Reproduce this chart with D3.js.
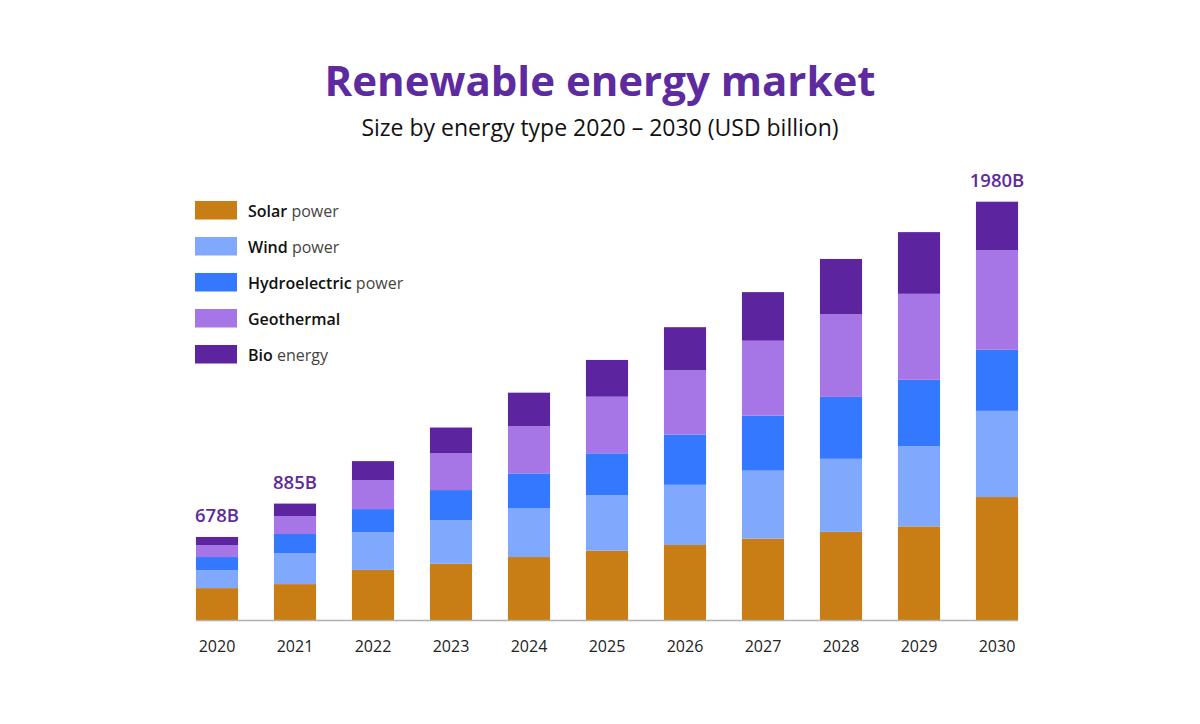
<!DOCTYPE html>
<html>
<head>
<meta charset="utf-8">
<script src="https://cdn.jsdelivr.net/npm/d3@7"></script>
<style>
  html, body { margin: 0; padding: 0; background: #fff; }
  svg { display: block; font-family: 'Open Sans', sans-serif; }
</style>
</head>
<body>
<svg id="canvas" width="1200" height="724"></svg>
<script>
// chart data (USD billion)
let years = ['2020', '2021', '2022', '2023', '2024', '2025', '2026', '2027', '2028', '2029', '2030']
let solar = [151, 170, 237, 266, 298, 328, 355, 385, 417, 443, 582]
let wind = [85, 147, 178, 207, 230, 262, 285, 322, 346, 380, 408]
let hydro = [62, 90, 110, 142, 166, 199, 238, 260, 293, 314, 289]
let geothermal = [57, 84, 137, 174, 224, 268, 304, 355, 391, 407, 472]
let bio = [38, 60, 90, 122, 158, 174, 204, 230, 262, 292, 229]

let seriesKeys = ['solar', 'wind', 'hydro', 'geothermal', 'bio']
let seriesBold = ['Solar', 'Wind', 'Hydroelectric', 'Geothermal', 'Bio']
let seriesRest = [' power', ' power', ' power', '', ' energy']
let seriesColors = ['#c97d15', '#80a9fe', '#3378fe', '#a776e6', '#5d24a0']

// total labels shown above some bars
let totalYears = ['2020', '2021', '2030']
let totalLabels = ['678B', '885B', '1980B']

let width = 1200
let height = 724

let canvas = d3.select('#canvas')

let table = years.map((year, i) => {
    return {
        year: year,
        solar: solar[i],
        wind: wind[i],
        hydro: hydro[i],
        geothermal: geothermal[i],
        bio: bio[i]
    }
})

let stacked = d3.stack().keys(seriesKeys)(table)

let xScale = d3.scaleBand()
               .domain(years)
               .range([178, 1036])
               .paddingInner(0.46)
               .paddingOuter(0.23)

let yScale = d3.scaleLinear()
               .domain([0, 1980])
               .range([620, 201.7])

let colorScale = d3.scaleOrdinal()
                   .domain(seriesKeys)
                   .range(seriesColors)

// title
canvas.append('text')
      .attr('x', width / 2)
      .attr('y', 96)
      .attr('text-anchor', 'middle')
      .style('font-size', '42px')
      .style('font-weight', '700')
      .style('fill', '#5d2aa0')
      .text('Renewable energy market')

canvas.append('text')
      .attr('x', width / 2)
      .attr('y', 136)
      .attr('text-anchor', 'middle')
      .style('font-size', '23px')
      .style('fill', '#111')
      .text('Size by energy type 2020 \u2013 2030 (USD billion)')

// bars
canvas.append('g')
      .selectAll('g')
      .data(stacked)
      .enter()
      .append('g')
      .attr('fill', (d) => colorScale(d.key))
      .selectAll('rect')
      .data((d) => d)
      .enter()
      .append('rect')
      .attr('x', (d) => xScale(d.data.year))
      .attr('y', (d) => yScale(d[1]))
      .attr('width', xScale.bandwidth())
      .attr('height', (d) => yScale(d[0]) - yScale(d[1]))

// baseline
canvas.append('line')
      .attr('x1', xScale(years[0]))
      .attr('x2', xScale(years[years.length - 1]) + xScale.bandwidth())
      .attr('y1', yScale(0) + 0.5)
      .attr('y2', yScale(0) + 0.5)
      .attr('stroke', '#b0b0b0')
      .attr('stroke-width', 1.5)

// year labels
let xAxis = d3.axisBottom(xScale).tickSize(0).tickPadding(0)
let axisG = canvas.append('g')
                  .attr('transform', 'translate(0,' + (yScale(0) + 32) + ')')
                  .call(xAxis)
axisG.select('.domain').remove()
axisG.selectAll('text')
     .attr('dy', 0)
     .style('font-family', "'Open Sans', sans-serif")
     .style('font-size', '16px')
     .style('fill', '#222')

// totals
let stackTop = (year) => {
    let last = stacked[stacked.length - 1]
    return last.find((d) => d.data.year === year)[1]
}
canvas.append('g')
      .selectAll('text')
      .data(totalYears)
      .enter()
      .append('text')
      .attr('x', (d) => xScale(d) + xScale.bandwidth() / 2)
      .attr('y', (d) => yScale(stackTop(d)) - 15)
      .attr('text-anchor', 'middle')
      .style('font-size', '18.5px')
      .style('font-weight', '600')
      .style('fill', '#5d2aa0')
      .text((d, i) => totalLabels[i])

// legend
let legend = canvas.append('g')
                   .selectAll('g')
                   .data(seriesKeys)
                   .enter()
                   .append('g')
                   .attr('transform', (d, i) => 'translate(195,' + (201 + i * 36) + ')')

legend.append('rect')
      .attr('width', 42)
      .attr('height', 18.5)
      .attr('fill', (d) => colorScale(d))

let legendText = legend.append('text')
                       .attr('x', 53)
                       .attr('y', 15.5)
                       .style('font-size', '16px')
                       .style('fill', '#111')
legendText.append('tspan')
          .style('font-weight', '600')
          .text((d, i) => seriesBold[i])
legendText.append('tspan')
          .style('font-weight', '400')
          .style('fill', '#444')
          .text((d, i) => seriesRest[i])
</script>
</body>
</html>
